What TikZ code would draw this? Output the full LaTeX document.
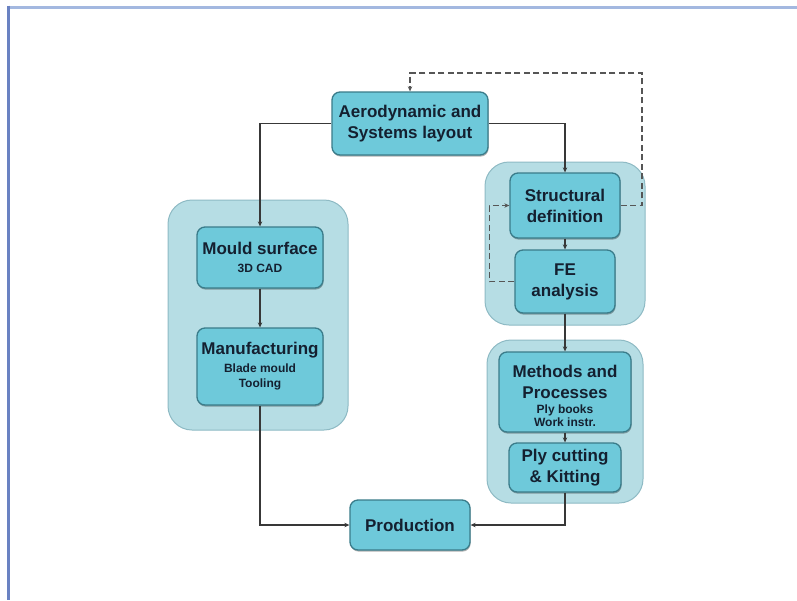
\documentclass[tikz,border=0pt]{standalone}
\usepackage{fontspec}
\setmainfont{Liberation Sans}
\usetikzlibrary{arrows.meta,shadows}
\definecolor{boxfill}{RGB}{110,201,218}
\definecolor{boxline}{RGB}{58,124,138}
\definecolor{grpfill}{RGB}{182,221,228}
\definecolor{grpline}{RGB}{142,186,196}
\definecolor{txt}{RGB}{20,32,48}
\definecolor{conn}{RGB}{56,56,56}
\definecolor{frametop}{RGB}{163,184,224}
\definecolor{frameleft}{RGB}{106,130,194}
\newcommand{\bigt}{\fontsize{17}{21}\selectfont\bfseries}
\newcommand{\smallt}{\fontsize{12}{14}\selectfont\bfseries}
\tikzset{
  procbox/.style={draw=boxline, fill=boxfill, line width=1.3pt, rounded corners=8pt,
    inner sep=0pt, align=center, text=txt, font=\bigt,
    drop shadow={shadow xshift=0.6pt, shadow yshift=-1.6pt, opacity=0.3, fill=black}},
  plaintext/.style={inner sep=0pt, align=center, text=txt, font=\bigt},
  grpbox/.style={draw=grpline, fill=grpfill, line width=1pt, rounded corners=24pt, inner sep=0pt},
  arr/.style={draw=conn, line width=1.1pt, -{Stealth[length=5pt,width=4.5pt]}},
  darr/.style={draw=conn!85, line width=1.1pt, dash pattern=on 6pt off 3.5pt, -{Stealth[length=5pt,width=4.5pt]}}
}
\begin{document}
\begin{tikzpicture}[x=1pt,y=-1pt]
\useasboundingbox (0,0) rectangle (797,600);
\fill[white] (0,0) rectangle (797,600);
\draw[frametop, line width=3pt] (8,7) -- (797,7);
\draw[frameleft, line width=3pt] (8,5.5) -- (8,600);

% groups
\node[grpbox, minimum width=180pt, minimum height=230pt] (g1) at (258,315) {};
\node[grpbox, minimum width=160pt, minimum height=163pt] (g2) at (565,243.5) {};
\node[grpbox, minimum width=156pt, minimum height=163pt] (g3) at (565,421.5) {};

% process boxes
\node[procbox, minimum width=156pt, minimum height=63pt] (aero) at (410,123.5)
  {Aerodynamic and\\Systems layout};
\node[procbox, minimum width=126pt, minimum height=61pt] (mould) at (260,257.5)
  {Mould surface\\[-3pt]{\smallt 3D CAD}};
\node[procbox, minimum width=126pt, minimum height=77pt] (manuf) at (260,366.5)
  {Manufacturing\\[-3pt]{\smallt Blade mould}\\[-6pt]{\smallt Tooling}};
\node[procbox, minimum width=110pt, minimum height=65pt] (struct) at (565,205.5)
  {Structural\\definition};
\node[procbox, minimum width=100pt, minimum height=63pt] (fe) at (565,281.5)
  {FE\\analysis};
\node[procbox, minimum width=132pt, minimum height=80pt] (meth) at (565,392) {};
\node[plaintext] (methtxt) at (565,396)
  {Methods and\\Processes\\[-6pt]{\smallt Ply books}\\[-8pt]{\smallt Work instr.}};
\node[procbox, minimum width=112pt, minimum height=49pt] (ply) at (565,467.5)
  {Ply cutting\\\& Kitting};
\node[procbox, minimum width=120pt, minimum height=50pt] (prod) at (410,525)
  {Production};

% connectors
\draw[arr] (aero.west) -| (mould.north);
\draw[arr] (aero.east) -| (struct.north);
\draw[arr] (mould.south) -- (manuf.north);
\draw[arr] (manuf.south) |- (prod.west);
\draw[arr] (struct.south) -- (fe.north);
\draw[arr] (fe.south) -- (meth.north);
\draw[arr] (meth.south) -- (ply.north);
\draw[arr] (ply.south) |- (prod.east);

% dashed feedback loops
\coordinate (topright) at (642,73);
\draw[darr] (struct.east) -| (topright) -| (aero.north);
\draw[darr] (fe.west) -- ++(-25,0) |- (struct.west);
\end{tikzpicture}
\end{document}
